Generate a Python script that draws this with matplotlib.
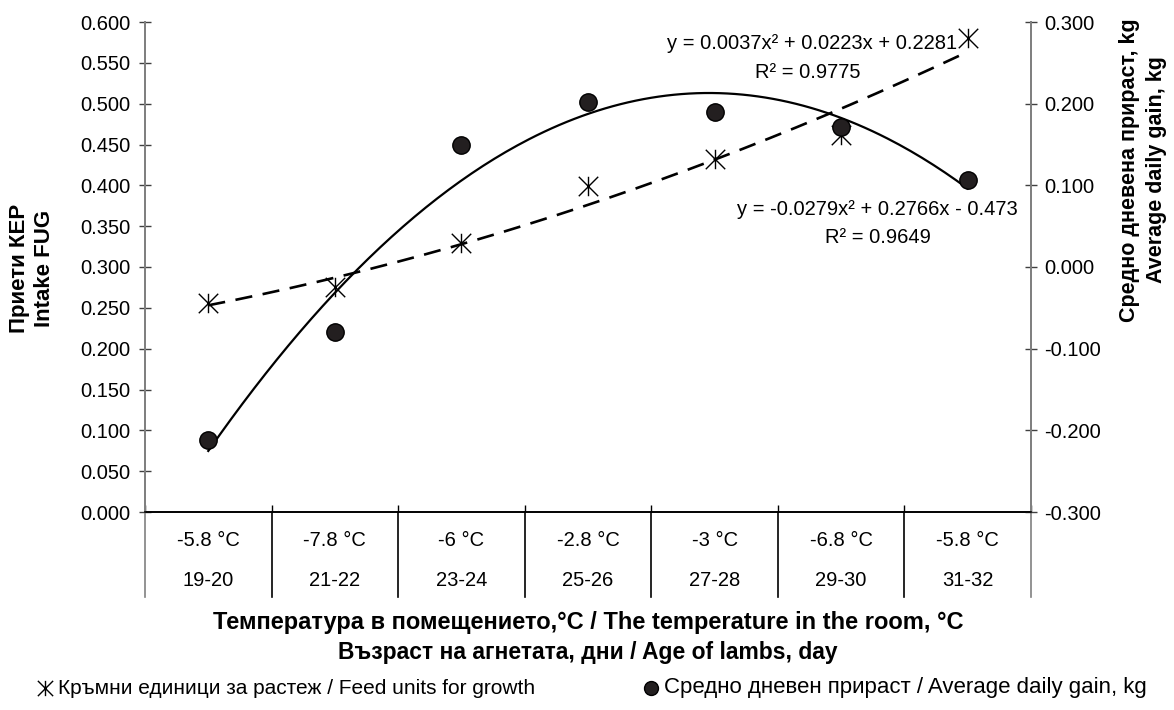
import numpy as np
import matplotlib.pyplot as plt
from matplotlib.path import Path
from matplotlib.lines import Line2D
from matplotlib.transforms import blended_transform_factory

plt.rcParams['font.family'] = ['Liberation Sans', 'DejaVu Sans']

temps = ['-5.8 °C', '-7.8 °C', '-6 °C', '-2.8 °C', '-3 °C', '-6.8 °C', '-5.8 °C']
ages = ['19-20', '21-22', '23-24', '25-26', '27-28', '29-30', '31-32']
feed_units = [0.256, 0.275, 0.329, 0.399, 0.432, 0.462, 0.580]
daily_gain = [-0.212, -0.080, 0.150, 0.202, 0.190, 0.171, 0.107]

x = np.arange(1, len(ages) + 1)

# Excel-like star marker: X plus vertical bar
star = Path([(-1, -1), (1, 1), (-1, 1), (1, -1), (0, 1), (0, -1)],
            [Path.MOVETO, Path.LINETO, Path.MOVETO, Path.LINETO, Path.MOVETO, Path.LINETO])

fig = plt.figure(figsize=(11.74, 7.1), dpi=100)
ax = fig.add_axes([145 / 1174, 1 - 512 / 710, 886 / 1174, 490 / 710])
ax2 = ax.twinx()

ax.set_xlim(0.5, len(ages) + 0.5)
ax.set_ylim(0, 0.6)
ax.set_yticks(np.arange(0, 0.6001, 0.05))
ax.yaxis.set_major_formatter(plt.FormatStrFormatter('%.3f'))
ax2.set_ylim(-0.3, 0.3)
ax2.set_yticks(np.arange(-0.3, 0.3001, 0.1))
ax2.yaxis.set_major_formatter(plt.FormatStrFormatter('%.3f'))

# trend lines (2nd order polynomial)
xs = np.linspace(1, len(ages), 200)
p1 = np.polyfit(x, feed_units, 2)
p2 = np.polyfit(x, daily_gain, 2)
ax.plot(xs, np.polyval(p1, xs), color='black', lw=1.9, dashes=(6.5, 4), zorder=3)
ax2.plot(xs, np.polyval(p2, xs), color='black', lw=1.6, zorder=3)

ax.plot(x, feed_units, linestyle='none', marker=star, ms=14, mew=1.0,
        mec='black', mfc='none', zorder=4)
ax2.plot(x, daily_gain, linestyle='none', marker='o', ms=12.5,
         mfc='#231f20', mec='black', mew=1, zorder=4)

# equations
fs = 14.5
ax.text(6.92, 0.574, 'y = 0.0037x² + 0.0223x + 0.2281', ha='right', va='center', fontsize=fs)
ax.text(5.74, 0.538, 'R² = 0.9775', ha='center', va='center', fontsize=fs)
ax.text(6.29, 0.370, 'y = -0.0279x² + 0.2766x - 0.473', ha='center', va='center', fontsize=fs)
ax.text(6.29, 0.336, 'R² = 0.9649', ha='center', va='center', fontsize=fs)

# spines and ticks
for a in (ax, ax2):
    a.spines['top'].set_visible(False)
    a.spines['left'].set_color('#808080')
    a.spines['right'].set_color('#808080')
    a.spines['left'].set_linewidth(1.4)
    a.spines['right'].set_linewidth(1.4)
    a.spines['bottom'].set_color('black')
    a.spines['bottom'].set_linewidth(1.2)
ax.tick_params(axis='y', direction='inout', length=9, width=1, color='#404040',
               labelsize=fs, pad=6)
ax2.tick_params(axis='y', direction='inout', length=9, width=1, color='#404040',
                labelsize=fs, pad=5)
ax.set_xticks(np.arange(0.5, len(ages) + 1, 1))
ax.set_xticklabels([])
ax.tick_params(axis='x', direction='in', length=5, width=1, color='black')

# multi-level category axis
tr = blended_transform_factory(ax.transData, ax.transAxes)
for b in np.arange(0.5, len(ages) + 1, 1):
    col = '#808080' if b in (0.5, len(ages) + 0.5) else 'black'
    ax.plot([b, b], [0, -85 / 490], transform=tr, color=col, lw=1.2, clip_on=False)
for xi, t, a in zip(x, temps, ages):
    ax.text(xi, -28 / 490, t, transform=tr, ha='center', va='center', fontsize=fs)
    ax.text(xi, -68 / 490, a, transform=tr, ha='center', va='center', fontsize=fs)

# axis titles
fig.text(588 / 1174, 1 - 623 / 710, 'Температура в помещението,°C / The temperature in the room, °C',
         ha='center', va='center', fontsize=17, fontweight='bold')
fig.text(588 / 1174, 1 - 652 / 710, 'Възраст на агнетата, дни / Age of lambs, day',
         ha='center', va='center', fontsize=16.5, fontweight='bold')
fig.text(32 / 1174, 1 - 268 / 710, 'Приети КЕР\nIntake FUG', rotation=90,
         ha='center', va='center', fontsize=16, fontweight='bold', multialignment='center',
         linespacing=1.3)
fig.text(1143 / 1174, 1 - 170 / 710, 'Средно дневена прираст, kg\nAverage daily gain, kg',
         rotation=90, ha='center', va='center', fontsize=15.5, fontweight='bold',
         multialignment='center', linespacing=1.35)

# legend
ly = 1 - 688 / 710
fig.add_artist(Line2D([45 / 1174], [ly], transform=fig.transFigure, linestyle='none',
                      marker=star, ms=11, mew=1.0, mec='black', mfc='none'))
fig.text(58 / 1174, ly, 'Кръмни единици за растеж / Feed units for growth',
         ha='left', va='center', fontsize=15)
fig.add_artist(Line2D([651 / 1174], [ly], transform=fig.transFigure, linestyle='none',
                      marker='o', ms=10, mfc='#231f20', mec='black'))
fig.text(664 / 1174, ly, 'Средно дневен прираст / Average daily gain, kg',
         ha='left', va='center', fontsize=16)

fig.savefig('out.png', dpi=100)
